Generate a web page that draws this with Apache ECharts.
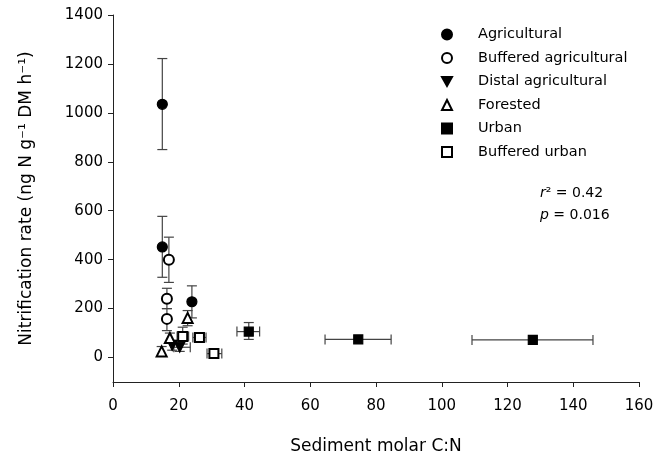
<!DOCTYPE html>
<html>
<head>
<meta charset="utf-8">
<script src="https://cdn.jsdelivr.net/npm/echarts@6/dist/echarts.min.js"></script>
<style>
html,body{margin:0;padding:0;background:#fff;}
#chart{width:665px;height:461px;}
</style>
</head>
<body>
<div id="chart"></div>
<script>
// Each point: [x, y, yLow, yHigh, xLow, xHigh]  (null = no error bar)
var agricultural = [
  [15.0, 1035, 850, 1222, null, null],
  [15.0, 452, 328, 577, null, null],
  [24.0, 228, 162, 293, null, null]
];
var bufferedAgricultural = [
  [17.0, 400, 307, 492, null, null],
  [16.4, 240, 200, 283, null, null],
  [16.4, 158, 110, 200, null, null]
];
var distalAgricultural = [
  [18.0, 50, 30, 70, null, null],
  [20.3, 42, 25, 60, 18.5, 23.5]
];
var forested = [
  [14.8, 25, 5, 45, null, null],
  [17.3, 80, 60, 100, null, null],
  [22.7, 162, 130, 192, null, null]
];
var urban = [
  [41.3, 106, 74, 143, 37.7, 44.6],
  [74.6, 74, null, null, 64.5, 84.6],
  [127.7, 72, null, null, 109.2, 146.0]
];
var bufferedUrban = [
  [26.3, 82, 70, 95, 24.3, 28.3],
  [30.7, 16, null, null, 28.6, 33.1],
  [21.2, 86, 55, 124, 19.5, 23.0]
];
var seriesNames = ['Agricultural','Buffered agricultural','Distal agricultural','Forested','Urban','Buffered urban'];
var xTicks = [0,20,40,60,80,100,120,140,160];
var yTicks = [0,200,400,600,800,1000,1200,1400];
var statR2 = '0.42';
var statP = '0.016';

var groups = [agricultural, bufferedAgricultural, distalAgricultural, forested, urban, bufferedUrban];
var symbols = ['circle','emptyCircle','path://M0,0L10,0L5,9Z','emptyTriangle','rect','emptyRect'];
var sizes = [10,10,10,10,9,9];

var errData = [];
groups.forEach(function(g){ g.forEach(function(p){ errData.push(p); }); });

var FONT = 'DejaVu Sans';

function renderErr(params, api){
  var x = api.value(0), y = api.value(1);
  var yl = api.value(2), yh = api.value(3), xl = api.value(4), xh = api.value(5);
  var children = [];
  var st = {stroke:'#444', lineWidth:1.2};
  var cap = 5;
  if (!isNaN(yl) && !isNaN(yh)) {
    var a = api.coord([x, yl]), b = api.coord([x, yh]);
    children.push({type:'line', shape:{x1:a[0],y1:a[1],x2:b[0],y2:b[1]}, style:st});
    children.push({type:'line', shape:{x1:a[0]-cap,y1:a[1],x2:a[0]+cap,y2:a[1]}, style:st});
    children.push({type:'line', shape:{x1:b[0]-cap,y1:b[1],x2:b[0]+cap,y2:b[1]}, style:st});
  }
  if (!isNaN(xl) && !isNaN(xh)) {
    var c = api.coord([xl, y]), d = api.coord([xh, y]);
    children.push({type:'line', shape:{x1:c[0],y1:c[1],x2:d[0],y2:d[1]}, style:st});
    children.push({type:'line', shape:{x1:c[0],y1:c[1]-cap,x2:c[0],y2:c[1]+cap}, style:st});
    children.push({type:'line', shape:{x1:d[0],y1:d[1]-cap,x2:d[0],y2:d[1]+cap}, style:st});
  }
  return {type:'group', children:children};
}

var series = [{
  type:'custom', name:'err', renderItem: renderErr, data: errData, z:1, silent:true,
  encode:{x:0, y:1}
}];
groups.forEach(function(g, i){
  series.push({
    type:'scatter', name: seriesNames[i], data: g.map(function(p){ return [p[0], p[1]]; }),
    symbol: symbols[i], symbolSize: sizes[i], z:5,
    itemStyle:{color:'#000', borderColor:'#000', borderWidth:1.2, opacity:1},
    emphasis:{disabled:true}
  });
});

function plain(v){ return String(v); }

var chart = echarts.init(document.getElementById('chart'));
chart.setOption({
  animation:false,
  backgroundColor:'#fff',
  grid:{left:113, right:26, top:15, bottom:79, containLabel:false},
  xAxis:{
    type:'value', min:0, max:160, interval:20,
    name:'Sediment molar C:N', nameLocation:'middle', nameGap:56,
    nameTextStyle:{fontFamily:FONT, fontSize:17, color:'#000'},
    axisLine:{onZero:false, lineStyle:{color:'#222', width:1}},
    axisTick:{show:true, length:5, lineStyle:{color:'#222'}, customValues: xTicks},
    axisLabel:{fontFamily:FONT, fontSize:15, color:'#000', margin:17, customValues: xTicks, formatter: plain},
    splitLine:{show:false}
  },
  yAxis:{
    type:'value', min:-100, max:1400, interval:100,
    name:'Nitrification rate (ng N g\u207B\u00B9 DM h\u207B\u00B9)', nameLocation:'middle', nameGap:78,
    nameTextStyle:{fontFamily:FONT, fontSize:17, color:'#000'},
    axisLine:{onZero:false, lineStyle:{color:'#222', width:1}},
    axisTick:{show:true, length:5, lineStyle:{color:'#222'}, customValues: yTicks},
    axisLabel:{fontFamily:FONT, fontSize:15, color:'#000', margin:10, customValues: yTicks, formatter: plain},
    splitLine:{show:false}
  },
  legend:{
    orient:'vertical', left:436, top:21, itemWidth:10, itemHeight:10, itemGap:6.5,
    data: seriesNames,
    textStyle:{fontFamily:FONT, fontSize:14.5, color:'#000', padding:[0,0,0,21], lineHeight:17}
  },
  graphic:[
    {type:'text', left:540, top:186, style:{text:'{i|r}\u00B2 = ' + statR2, font:'14px "DejaVu Sans"', fill:'#000',
      rich:{i:{fontStyle:'italic', fontFamily:FONT, fontSize:14}}}},
    {type:'text', left:540, top:208, style:{text:'{i|p} = ' + statP, font:'14px "DejaVu Sans"', fill:'#000',
      rich:{i:{fontStyle:'italic', fontFamily:FONT, fontSize:14}}}}
  ],
  series: series
});
</script>
</body>
</html>
